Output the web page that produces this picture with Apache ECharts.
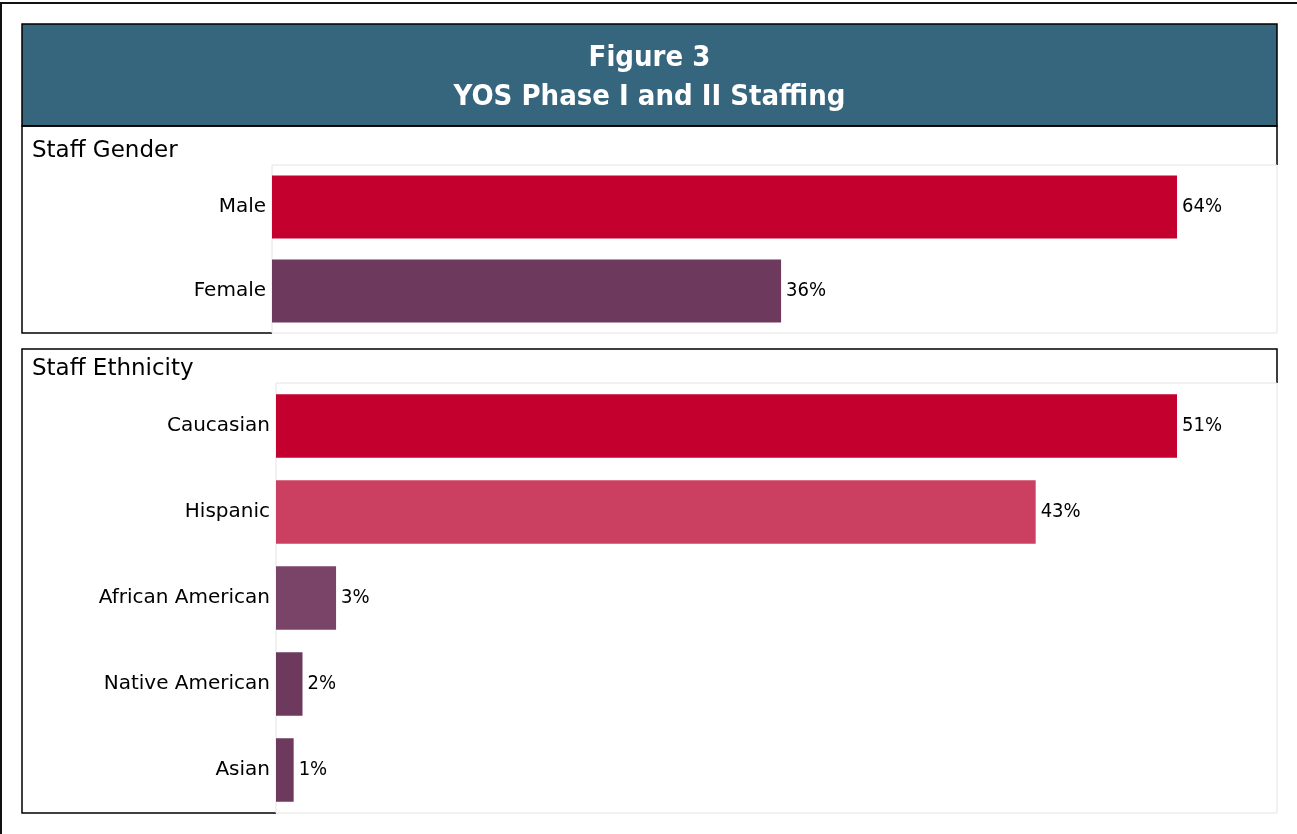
<!DOCTYPE html>
<html>
<head>
<meta charset="utf-8">
<title>Figure 3</title>
<script src="https://cdn.jsdelivr.net/npm/echarts@6/dist/echarts.min.js"></script>
<style>
    html, body { margin: 0; padding: 0; background: #fff; }
    #main { width: 1297px; height: 834px; }
</style>
</head>
<body>
<div id="main"></div>
<script>
// data
var titleLines = ['Figure 3', 'YOS Phase I and II Staffing'];

var genderTitle = 'Staff Gender';
var genderCats = ['Male', 'Female'];
var genderValues = [64, 36];
var genderLabels = ['64%', '36%'];
var genderColors = ['#C4002F', '#6D3A5E'];

var ethnicTitle = 'Staff Ethnicity';
var ethnicCats = ['Caucasian', 'Hispanic', 'African American', 'Native American', 'Asian'];
var ethnicValues = [51, 43, 3.4, 1.5, 1.0];
var ethnicLabels = ['51%', '43%', '3%', '2%', '1%'];
var ethnicColors = ['#C4002F', '#CB4060', '#7A4468', '#6D3A5E', '#6D3A5E'];

var FONT = '"DejaVu Sans", sans-serif';
var FONT_C = '"DejaVu Sans Condensed", "DejaVu Sans", sans-serif';

(function(window, echarts) {
    var chart = echarts.init(document.getElementById('main'), null, { renderer: 'canvas' });

    function barData(values, colors) {
        var list = [];
        for (var i = 0; i < values.length; i++) {
            list.push({ value: values[i], itemStyle: { color: colors[i] } });
        }
        return list;
    }

    function yAxis(idx, cats) {
        return {
            type: 'category',
            gridIndex: idx,
            data: cats,
            inverse: true,
            axisLine: { show: false },
            axisTick: { show: false },
            axisLabel: { color: '#000', fontFamily: FONT, fontSize: 20, margin: 6 }
        };
    }

    function xAxis(idx, max) {
        return {
            type: 'value',
            gridIndex: idx,
            min: 0,
            max: max,
            show: false,
            splitLine: { show: false }
        };
    }

    function barSeries(idx, values, colors, labels, gap) {
        return {
            type: 'bar',
            xAxisIndex: idx,
            yAxisIndex: idx,
            data: barData(values, colors),
            barCategoryGap: gap,
            label: {
                show: true,
                position: 'right',
                distance: 5,
                color: '#000',
                fontFamily: FONT_C,
                fontSize: 20,
                formatter: function(p) { return labels[p.dataIndex]; }
            }
        };
    }

    var frame = { fill: 'none', stroke: '#000', lineWidth: 1.5 };

    var option = {
        animation: false,
        backgroundColor: '#fff',
        grid: [
            { left: 272, top: 165, width: 1005, height: 168, show: true, z: 1,
              backgroundColor: '#fff', borderColor: '#e4e4e4', borderWidth: 1 },
            { left: 276, top: 383, width: 1001, height: 430, show: true, z: 1,
              backgroundColor: '#fff', borderColor: '#e4e4e4', borderWidth: 1 }
        ],
        xAxis: [xAxis(0, 71.07), xAxis(1, 56.66)],
        yAxis: [yAxis(0, genderCats), yAxis(1, ethnicCats)],
        series: [
            barSeries(0, genderValues, genderColors, genderLabels, '25%'),
            barSeries(1, ethnicValues, ethnicColors, ethnicLabels, '26%')
        ],
        graphic: [
            // outer frame
            { type: 'polyline', z: 0, shape: { points: [[1, 834], [1, 3], [1297, 3]] },
              style: { fill: 'none', stroke: '#111', lineWidth: 2 } },
            // title banner
            { type: 'rect', z: 0, shape: { x: 22, y: 24, width: 1255, height: 102 },
              style: { fill: '#36657E', stroke: '#000', lineWidth: 1.5 } },
            { type: 'text', z: 3, x: 649.5, y: 58,
              style: { text: titleLines[0], fill: '#fff', font: 'bold 29px ' + FONT_C,
                       textAlign: 'center', textVerticalAlign: 'middle' } },
            { type: 'text', z: 3, x: 649.5, y: 97,
              style: { text: titleLines[1], fill: '#fff', font: 'bold 29px ' + FONT_C,
                       textAlign: 'center', textVerticalAlign: 'middle' } },
            // panel frames, open where the plot area sits
            { type: 'polyline', z: 0,
              shape: { points: [[272, 333], [22, 333], [22, 126], [1277, 126], [1277, 165]] }, style: frame },
            { type: 'polyline', z: 0,
              shape: { points: [[276, 813], [22, 813], [22, 349], [1277, 349], [1277, 383]] }, style: frame },
            { type: 'text', z: 3, x: 32, y: 151,
              style: { text: genderTitle, fill: '#000', font: '23px ' + FONT, textVerticalAlign: 'middle' } },
            { type: 'text', z: 3, x: 32, y: 369,
              style: { text: ethnicTitle, fill: '#000', font: '23px ' + FONT, textVerticalAlign: 'middle' } }
        ]
    };

    chart.setOption(option);
})(window, echarts);
</script>
</body>
</html>
